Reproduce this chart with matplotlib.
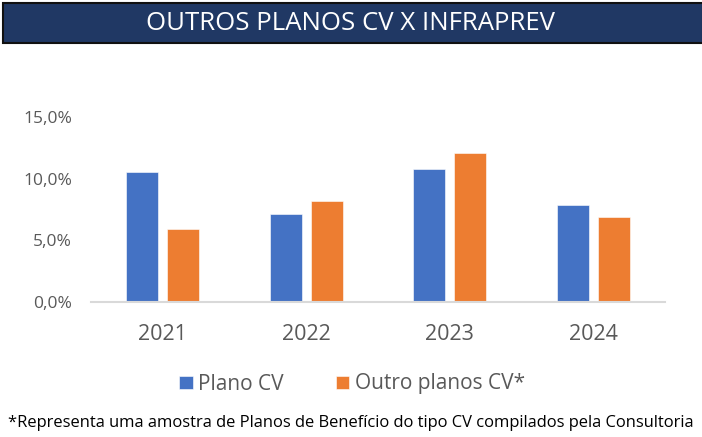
import matplotlib.pyplot as plt
import matplotlib.patches as mpatches
import numpy as np

# data
years = ['2021', '2022', '2023', '2024']
plano_cv = [10.5, 7.15, 10.8, 7.85]
outros_cv = [5.9, 8.2, 12.05, 6.85]
yticks = [0, 5, 10, 15]
ytick_labels = ['0,0%', '5,0%', '10,0%', '15,0%']

blue = '#4472C4'
orange = '#ED7D31'
grey = '#595959'

plt.rcParams['font.family'] = ['Open Sans', 'DejaVu Sans']

fig = plt.figure(figsize=(7.02, 4.37), dpi=100)

# title banner
fig.patches.append(mpatches.Rectangle((3 / 702, 1 - 43 / 437), 700 / 702, 40 / 437,
                                      transform=fig.transFigure, facecolor='#203864',
                                      edgecolor='#111111', linewidth=1.5))
fig.text(0.5, 1 - 23 / 437, 'OUTROS PLANOS CV X INFRAPREV', color='white',
         fontsize=18.5, ha='center', va='center')

ax = fig.add_axes([91 / 702, 1 - 301.7 / 437, 574 / 702, 184.7 / 437])
x = np.arange(len(years))
w = 0.223
off = 0.1415
ax.bar(x - off, plano_cv, w, color=blue, edgecolor='white', linewidth=0.4, label='Plano CV')
ax.bar(x + off, outros_cv, w, color=orange, edgecolor='white', linewidth=0.4, label='Outro planos CV*')

ax.set_xlim(-0.5, 3.5)
ax.set_ylim(0, 15)
ax.set_yticks(yticks)
ax.set_yticklabels(ytick_labels, color=grey, fontsize=12.5)
ax.set_xticks(x)
ax.set_xticklabels(years, color=grey, fontsize=15.5)
ax.tick_params(length=0)
ax.tick_params(axis='y', pad=13.5)
ax.tick_params(axis='x', pad=16)
for s in ['top', 'right', 'left']:
    ax.spines[s].set_visible(False)
ax.spines['bottom'].set_color('#D9D9D9')
ax.spines['bottom'].set_linewidth(1.5)

fig.legend(loc='center', bbox_to_anchor=(352 / 702, 1 - 384 / 437), ncol=2, frameon=False,
           fontsize=15, labelcolor=grey, handlelength=0.65, handleheight=0.6,
           handletextpad=0.25, columnspacing=2.5)

fig.text(0.5, 1 - 423 / 437,
         '*Representa uma amostra de Planos de Benefício do tipo CV compilados pela Consultoria',
         ha='center', va='center', fontsize=11.9, color='black')

fig.savefig('out.png', dpi=100)
